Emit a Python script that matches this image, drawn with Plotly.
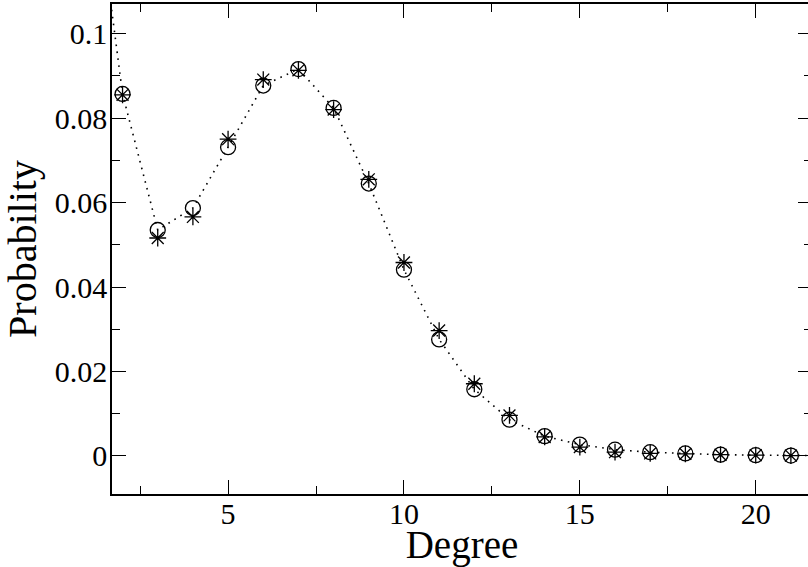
import plotly.graph_objects as go

degree = [1, 2, 3, 4, 5, 6, 7, 8, 9, 10, 11, 12, 13, 14, 15, 16, 17, 18, 19, 20, 21, 22]
prob_circle = [0.150, 0.0857, 0.0535, 0.0587, 0.0731, 0.0877, 0.0916, 0.0824, 0.0645, 0.0441,
               0.0276, 0.0158, 0.0086, 0.0047, 0.0027, 0.0015, 0.0009, 0.0006, 0.0003, 0.0002,
               0.0001, 0.0001]
prob_star = [0.150, 0.0855, 0.0516, 0.0566, 0.0750, 0.0891, 0.0913, 0.0820, 0.0655, 0.0458,
             0.0297, 0.0171, 0.0096, 0.0045, 0.0021, 0.0009, 0.0006, 0.0005, 0.0003, 0.0002,
             0.0001, 0.0001]

x_ticks = [5, 10, 15, 20]
y_ticks = [0, 0.02, 0.04, 0.06, 0.08, 0.1]
y_tick_text = ["0", "0.02", "0.04", "0.06", "0.08", "0.1"]

font_family = "Liberation Serif, Times New Roman, serif"

fig = go.Figure()
fig.add_trace(go.Scatter(
    x=degree, y=prob_circle, mode="lines+markers",
    line=dict(color="black", width=1.6, dash="1.6px,5.4px"),
    marker=dict(symbol="circle-open", size=15, color="black", line=dict(width=1.3)),
    showlegend=False,
))
fig.add_trace(go.Scatter(
    x=degree, y=prob_star, mode="markers",
    marker=dict(symbol="asterisk-open", size=14, color="black", line=dict(width=1.3, color="black")),
    showlegend=False,
))

fig.update_layout(
    width=816, height=567,
    margin=dict(l=112, r=2, t=3, b=73),
    paper_bgcolor="white", plot_bgcolor="white",
    font=dict(family=font_family, color="black"),
)
fig.update_xaxes(
    range=[1.70, 21.60], showgrid=False, zeroline=False,
    showline=True, linecolor="black", linewidth=1.5, mirror="ticks",
    ticks="inside", ticklen=14, tickwidth=1.2, tickcolor="black",
    tickvals=x_ticks, ticktext=[str(v) for v in x_ticks],
    tickfont=dict(size=30, family=font_family),
    ticklabelstandoff=-8,
    minor=dict(dtick=2.5, tick0=0, ticks="inside", ticklen=8, tickwidth=1.2, tickcolor="black"),
    title=dict(text="Degree", font=dict(size=39, family=font_family), standoff=2),
)
fig.update_yaxes(
    range=[-0.009, 0.107], showgrid=False, zeroline=False,
    showline=True, linecolor="black", linewidth=1.5, mirror="ticks",
    ticks="inside", ticklen=14, tickwidth=1.2, tickcolor="black",
    tickvals=y_ticks, ticktext=y_tick_text,
    tickfont=dict(size=30, family=font_family),
    ticklabelstandoff=-3,
    minor=dict(dtick=0.01, tick0=0, ticks="inside", ticklen=8, tickwidth=1.2, tickcolor="black"),
    title=dict(text="Probability", font=dict(size=40, family=font_family), standoff=6),
)

fig.write_html(
    "out.html",
    config={"displayModeBar": False},
    post_script="document.body.style.margin='0';document.body.style.overflow='hidden';",
)
